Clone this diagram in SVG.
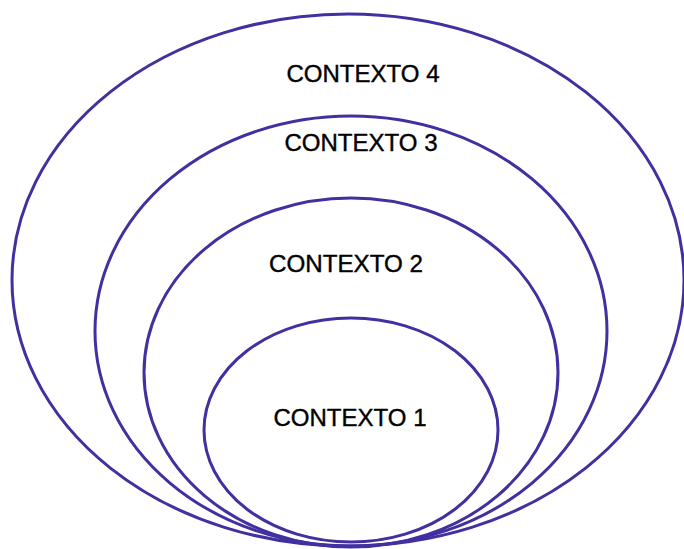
<svg xmlns="http://www.w3.org/2000/svg" width="684" height="549" viewBox="0 0 684 549">
<style>
.ring{fill:none;stroke:#4130A0;stroke-width:3}
.lbl{font-family:"Liberation Sans",Arial,sans-serif;font-size:24px;fill:#000;stroke:#000;stroke-width:0.4;text-anchor:middle}
</style>
<rect width="684" height="549" fill="#fff"/>
<g id="ctx4"><ellipse class="ring" cx="348" cy="280" rx="336" ry="266"/><text class="lbl" x="363" y="82" textLength="153" lengthAdjust="spacingAndGlyphs">CONTEXTO 4</text></g>
<g id="ctx3"><ellipse class="ring" cx="351" cy="331" rx="256" ry="215"/><text class="lbl" x="361" y="151" textLength="153" lengthAdjust="spacingAndGlyphs">CONTEXTO 3</text></g>
<g id="ctx2"><ellipse class="ring" cx="351" cy="372.5" rx="207" ry="174.5"/><text class="lbl" x="346" y="272" textLength="154" lengthAdjust="spacingAndGlyphs">CONTEXTO 2</text></g>
<g id="ctx1"><ellipse class="ring" cx="351" cy="430" rx="147" ry="112"/><text class="lbl" x="350" y="426" textLength="153" lengthAdjust="spacingAndGlyphs">CONTEXTO 1</text></g>
<g id="connectors"/>
</svg>
